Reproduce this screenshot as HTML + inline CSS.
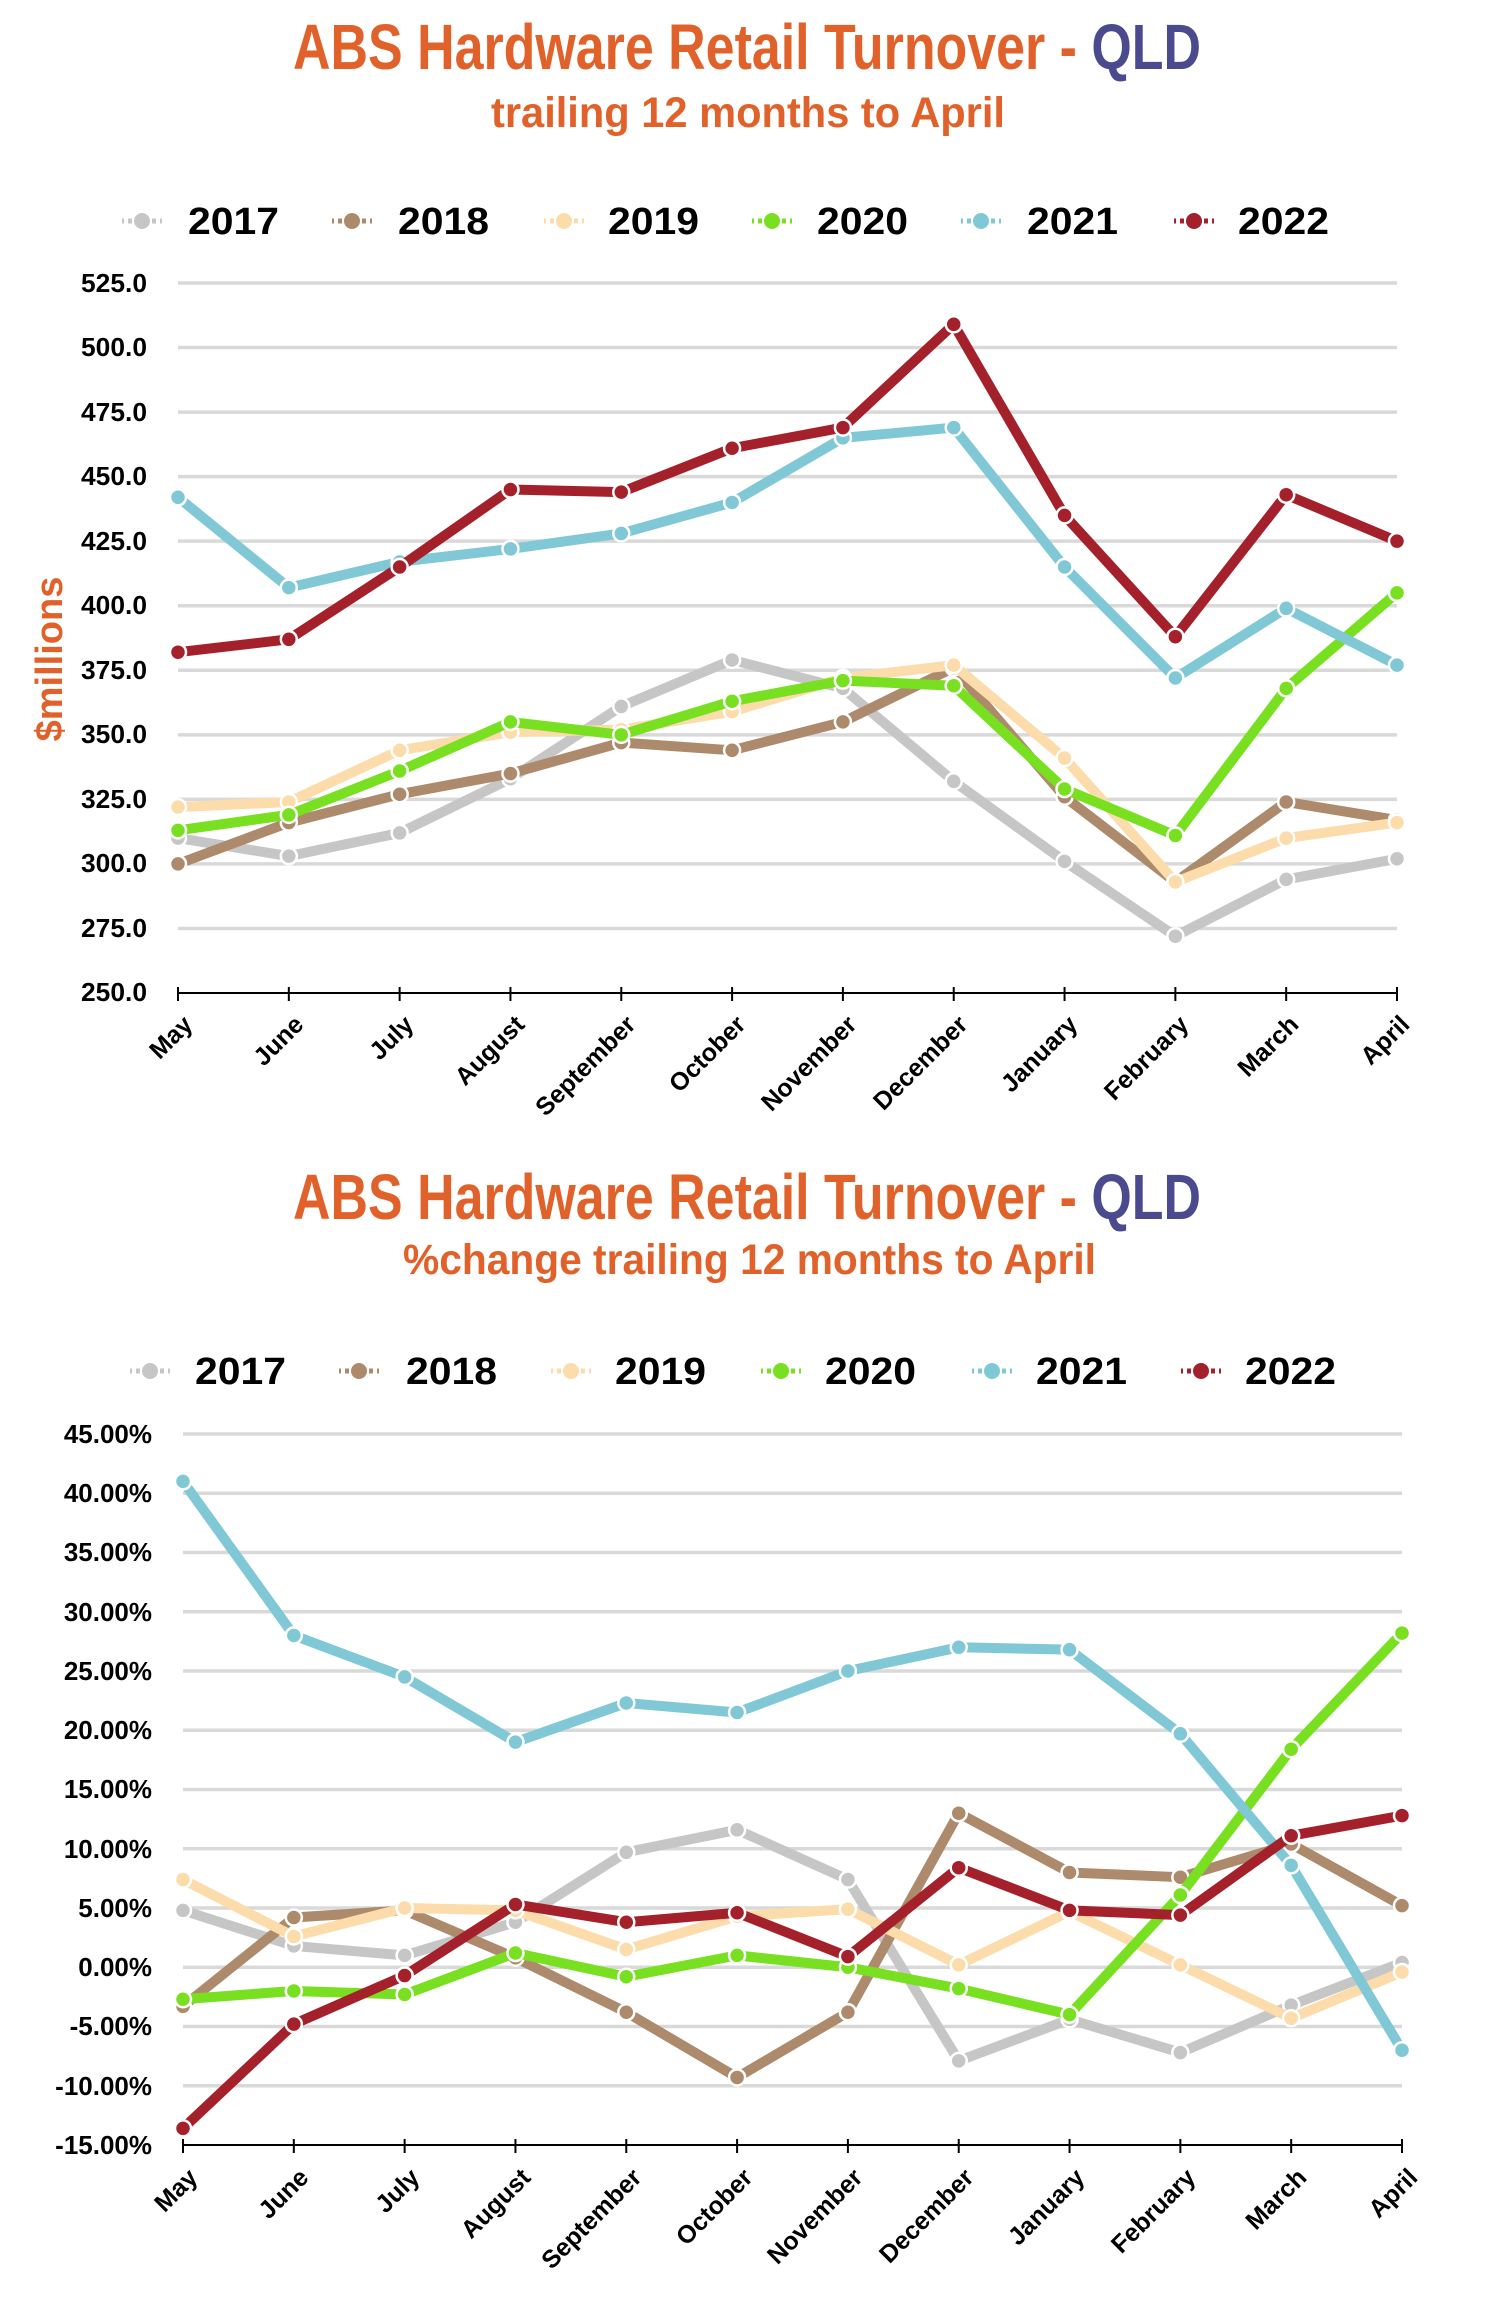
<!DOCTYPE html>
<html><head><meta charset="utf-8"><style>
html,body{margin:0;padding:0;background:#fff;}
svg{display:block;font-family:"Liberation Sans",sans-serif;font-weight:bold;}
</style></head><body>
<svg id="s" width="1500" height="2300" viewBox="0 0 1500 2300" xmlns="http://www.w3.org/2000/svg">
<rect width="1500" height="2300" fill="#fff"/>
<!-- Titles -->
<text x="293" y="69" font-size="64" textLength="908" lengthAdjust="spacingAndGlyphs" fill="#e0622a">ABS Hardware Retail Turnover - <tspan fill="#4b4a8e">QLD</tspan></text>
<text x="491" y="127" font-size="43" textLength="514" lengthAdjust="spacingAndGlyphs" fill="#e0622a">trailing 12 months to April</text>
<text x="293" y="1219" font-size="64" textLength="908" lengthAdjust="spacingAndGlyphs" fill="#e0622a">ABS Hardware Retail Turnover - <tspan fill="#4b4a8e">QLD</tspan></text>
<text x="403" y="1274" font-size="43" textLength="693" lengthAdjust="spacingAndGlyphs" fill="#e0622a">%change trailing 12 months to April</text>
<!-- Legends text -->
<g font-size="38" fill="#000">
<text x="188" y="234" textLength="91" lengthAdjust="spacingAndGlyphs">2017</text>
<text x="398" y="234" textLength="91" lengthAdjust="spacingAndGlyphs">2018</text>
<text x="608" y="234" textLength="91" lengthAdjust="spacingAndGlyphs">2019</text>
<text x="817" y="234" textLength="91" lengthAdjust="spacingAndGlyphs">2020</text>
<text x="1027" y="234" textLength="91" lengthAdjust="spacingAndGlyphs">2021</text>
<text x="1238" y="234" textLength="91" lengthAdjust="spacingAndGlyphs">2022</text>
<text x="195" y="1384" textLength="91" lengthAdjust="spacingAndGlyphs">2017</text>
<text x="406" y="1384" textLength="91" lengthAdjust="spacingAndGlyphs">2018</text>
<text x="615" y="1384" textLength="91" lengthAdjust="spacingAndGlyphs">2019</text>
<text x="825" y="1384" textLength="91" lengthAdjust="spacingAndGlyphs">2020</text>
<text x="1036" y="1384" textLength="91" lengthAdjust="spacingAndGlyphs">2021</text>
<text x="1245" y="1384" textLength="91" lengthAdjust="spacingAndGlyphs">2022</text>
</g>
<!-- Y labels chart 1 -->
<g font-size="26" fill="#000" text-anchor="end">
<text x="147" y="292" textLength="66" lengthAdjust="spacingAndGlyphs">525.0</text>
<text x="147" y="356" textLength="66" lengthAdjust="spacingAndGlyphs">500.0</text>
<text x="147" y="421" textLength="66" lengthAdjust="spacingAndGlyphs">475.0</text>
<text x="147" y="485" textLength="66" lengthAdjust="spacingAndGlyphs">450.0</text>
<text x="147" y="550" textLength="66" lengthAdjust="spacingAndGlyphs">425.0</text>
<text x="147" y="614" textLength="66" lengthAdjust="spacingAndGlyphs">400.0</text>
<text x="147" y="679" textLength="66" lengthAdjust="spacingAndGlyphs">375.0</text>
<text x="147" y="743" textLength="66" lengthAdjust="spacingAndGlyphs">350.0</text>
<text x="147" y="808" textLength="66" lengthAdjust="spacingAndGlyphs">325.0</text>
<text x="147" y="872" textLength="66" lengthAdjust="spacingAndGlyphs">300.0</text>
<text x="147" y="937" textLength="66" lengthAdjust="spacingAndGlyphs">275.0</text>
<text x="147" y="1001" textLength="66" lengthAdjust="spacingAndGlyphs">250.0</text>
</g>
<text transform="translate(62,659) rotate(-90)" font-size="38" fill="#e0622a" text-anchor="middle">$millions</text>
<!-- Y labels chart 2 -->
<g font-size="26" fill="#000" text-anchor="end">
<text x="152" y="1443">45.00%</text>
<text x="152" y="1502">40.00%</text>
<text x="152" y="1561">35.00%</text>
<text x="152" y="1621">30.00%</text>
<text x="152" y="1680">25.00%</text>
<text x="152" y="1739">20.00%</text>
<text x="152" y="1798">15.00%</text>
<text x="152" y="1858">10.00%</text>
<text x="152" y="1917">5.00%</text>
<text x="152" y="1976">0.00%</text>
<text x="152" y="2035">-5.00%</text>
<text x="152" y="2095">-10.00%</text>
<text x="152" y="2154">-15.00%</text>
</g>
<!-- X labels chart 1 -->
<g font-size="25" fill="#000" text-anchor="end">
<text transform="translate(194,1026) rotate(-45)">May</text>
<text transform="translate(305,1026) rotate(-45)">June</text>
<text transform="translate(415,1026) rotate(-45)">July</text>
<text transform="translate(526,1026) rotate(-45)">August</text>
<text transform="translate(637,1026) rotate(-45)">September</text>
<text transform="translate(747,1026) rotate(-45)">October</text>
<text transform="translate(858,1026) rotate(-45)">November</text>
<text transform="translate(969,1026) rotate(-45)">December</text>
<text transform="translate(1079,1026) rotate(-45)">January</text>
<text transform="translate(1190,1026) rotate(-45)">February</text>
<text transform="translate(1300,1026) rotate(-45)">March</text>
<text transform="translate(1411,1026) rotate(-45)">April</text>
</g>
<!-- X labels chart 2 -->
<g font-size="25" fill="#000" text-anchor="end">
<text transform="translate(199,2179) rotate(-45)">May</text>
<text transform="translate(310,2179) rotate(-45)">June</text>
<text transform="translate(421,2179) rotate(-45)">July</text>
<text transform="translate(532,2179) rotate(-45)">August</text>
<text transform="translate(643,2179) rotate(-45)">September</text>
<text transform="translate(754,2179) rotate(-45)">October</text>
<text transform="translate(864,2179) rotate(-45)">November</text>
<text transform="translate(975,2179) rotate(-45)">December</text>
<text transform="translate(1086,2179) rotate(-45)">January</text>
<text transform="translate(1197,2179) rotate(-45)">February</text>
<text transform="translate(1308,2179) rotate(-45)">March</text>
<text transform="translate(1419,2179) rotate(-45)">April</text>
</g>
<g id="plot"></g>
</svg>
<script>
(function(){
var NS="http://www.w3.org/2000/svg",g=document.getElementById("plot");
function el(t,a){var e=document.createElementNS(NS,t);for(var k in a)e.setAttribute(k,a[k]);g.appendChild(e);return e;}
var cols=["#c6c6c6","#ae8a6c","#fcdcab","#78e020","#80c8d6","#a4202b"];
function legend(xs,y){xs.forEach(function(x,i){
 el("line",{x1:x-20,y1:y,x2:x+20,y2:y,stroke:cols[i],"stroke-width":5,"stroke-dasharray":"4 4","stroke-dashoffset":2});
 el("circle",{cx:x,cy:y,r:8,fill:cols[i]});});}
legend([142,352,564,772,981,1194],221);
legend([150,359,571,781,992,1201],1371);
function chart(x0,x1,yTop,yBot,vTop,vBot,step,data){
 for(var v=vTop;v>vBot+1e-6;v-=step){var y=yTop+(vTop-v)/(vTop-vBot)*(yBot-yTop);
  el("line",{x1:x0,y1:y,x2:x1,y2:y,stroke:"#d9d9d9","stroke-width":3.5});}
 el("line",{x1:x0,y1:yBot,x2:x1,y2:yBot,stroke:"#000","stroke-width":2});
 var dx=(x1-x0)/11;
 for(var i=0;i<12;i++)el("line",{x1:x0+i*dx,y1:yBot-6,x2:x0+i*dx,y2:yBot+8,stroke:"#000","stroke-width":2});
 data.forEach(function(d,s){
  var pts=d.map(function(v,i){return [x0+i*dx,yTop+(vTop-v)/(vTop-vBot)*(yBot-yTop)];});
  el("polyline",{points:pts.map(function(p){return p.join(",")}).join(" "),fill:"none",stroke:cols[s],"stroke-width":10,"stroke-linejoin":"round","stroke-linecap":"round"});
  pts.forEach(function(p){el("circle",{cx:p[0],cy:p[1],r:8,fill:cols[s],stroke:"#fff","stroke-width":2.5});});
 });
}
chart(178,1397,283,993,525,250,25,[
[310,303,312,333,361,379,368,332,301,272,294,302],
[300,316,327,335,347,344,355,376,326,293,324,317],
[322,324,344,351,352,359,372,377,341,293,310,316],
[313,319,336,355,350,363,371,369,329,311,368,405],
[442,407,417,422,428,440,465,469,415,372,399,377],
[382,387,415,445,444,461,469,509,435,388,443,425]]);
chart(183,1402,1434,2145,45,-15,5,[
[4.8,1.8,1.0,3.8,9.7,11.6,7.4,-7.9,-4.4,-7.2,-3.2,0.4],
[-3.3,4.2,4.8,0.8,-3.8,-9.3,-3.8,13.0,8.0,7.6,10.4,5.2],
[7.4,2.6,5.0,4.8,1.5,4.3,4.9,0.2,4.7,0.2,-4.3,-0.4],
[-2.7,-2.0,-2.3,1.2,-0.8,1.0,0.0,-1.8,-4.0,6.1,18.4,28.2],
[41.0,28.0,24.5,19.0,22.3,21.5,25.0,27.0,26.8,19.7,8.6,-7.0],
[-13.6,-4.8,-0.7,5.3,3.8,4.6,0.9,8.4,4.8,4.4,11.1,12.8]]);
})();
</script>
</body></html>
